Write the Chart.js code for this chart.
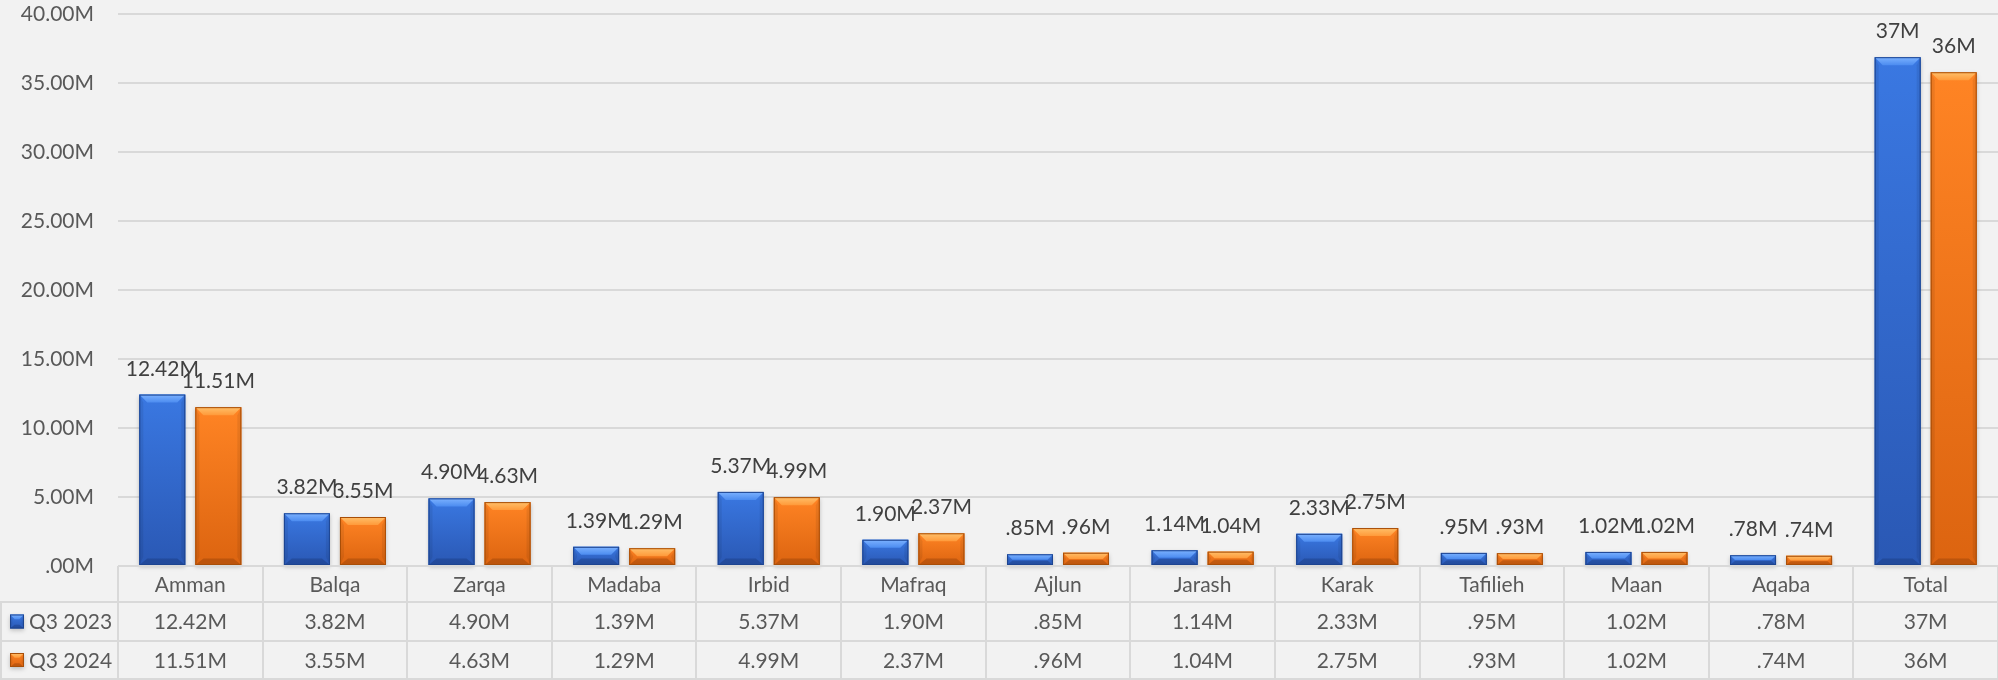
<!DOCTYPE html>
<html>
<head>
<meta charset="utf-8">
<script src="https://cdn.jsdelivr.net/npm/chart.js@4/dist/chart.umd.min.js"></script>
<style>
html,body{margin:0;padding:0;background:#f2f2f2;}
canvas{display:block;}
</style>
</head>
<body>
<canvas id="c" width="1998" height="680"></canvas>
<script>
// ---- data ----
const categories = ["Amman","Balqa","Zarqa","Madaba","Irbid","Mafraq","Ajlun","Jarash","Karak","Tafilieh","Maan","Aqaba","Total"];
const seriesNames = ["Q3 2023","Q3 2024"];
const q3_2023 = [12.42,3.82,4.90,1.39,5.37,1.90,0.85,1.14,2.33,0.95,1.02,0.78,36.87];
const q3_2024 = [11.51,3.55,4.63,1.29,4.99,2.37,0.96,1.04,2.75,0.93,1.02,0.74,35.78];
const labels2023 = ["12.42M","3.82M","4.90M","1.39M","5.37M","1.90M",".85M","1.14M","2.33M",".95M","1.02M",".78M","37M"];
const labels2024 = ["11.51M","3.55M","4.63M","1.29M","4.99M","2.37M",".96M","1.04M","2.75M",".93M","1.02M",".74M","36M"];
const yTicks = [0,5,10,15,20,25,30,35,40];

const FONT = "Lato, 'Open Sans', sans-serif";
const styles = [
  {main:['#3a78e2','#2a58b4'], top:['#7cb2ff','#4c8cf0'], edge:'#1d4490', bottom:'rgba(10,30,80,0.25)'},
  {main:['#ff8424','#dc6410'], top:['#ffc06a','#ff9a3a'], edge:'#a84e08', bottom:'rgba(90,35,0,0.25)'}
];

function drawBevel(ctx, L, T, R, B, st){
  const w = R-L, h = B-T;
  if (h <= 0) return;
  const b = Math.min(8, h/2, w/3);
  ctx.save();
  ctx.shadowColor = 'rgba(0,0,0,0.22)';
  ctx.shadowBlur = 4; ctx.shadowOffsetY = 2;
  let g = ctx.createLinearGradient(0,T,0,B);
  g.addColorStop(0, st.main[0]); g.addColorStop(1, st.main[1]);
  ctx.fillStyle = g;
  ctx.fillRect(L,T,w,h);
  ctx.restore();
  ctx.fillStyle = 'rgba(0,0,0,0.07)';
  ctx.beginPath(); ctx.moveTo(L,T); ctx.lineTo(L+b*0.5,T+b); ctx.lineTo(L+b*0.5,B-b); ctx.lineTo(L,B); ctx.closePath(); ctx.fill();
  ctx.beginPath(); ctx.moveTo(R,T); ctx.lineTo(R-b*0.5,T+b); ctx.lineTo(R-b*0.5,B-b); ctx.lineTo(R,B); ctx.closePath(); ctx.fill();
  ctx.fillStyle = st.bottom;
  ctx.beginPath(); ctx.moveTo(L,B); ctx.lineTo(R,B); ctx.lineTo(R-b,B-b*0.8); ctx.lineTo(L+b,B-b*0.8); ctx.closePath(); ctx.fill();
  g = ctx.createLinearGradient(0,T,0,T+b);
  g.addColorStop(0, st.top[0]); g.addColorStop(1, st.top[1]);
  ctx.fillStyle = g;
  ctx.beginPath(); ctx.moveTo(L,T); ctx.lineTo(R,T); ctx.lineTo(R-b,T+b); ctx.lineTo(L+b,T+b); ctx.closePath(); ctx.fill();
  ctx.strokeStyle = st.edge; ctx.lineWidth = 1;
  ctx.strokeRect(L+0.5,T+0.5,w-1,h-1);
}

const bgPlugin = {
  id:'bg',
  beforeDraw(chart){
    const ctx = chart.ctx;
    ctx.save(); ctx.fillStyle='#f2f2f2'; ctx.fillRect(0,0,chart.width,chart.height); ctx.restore();
  }
};

const barPlugin = {
  id:'bevelBars',
  afterDatasetsDraw(chart){
    const ctx = chart.ctx;
    const valueLabels = [labels2023, labels2024];
    chart.data.datasets.forEach((ds,di)=>{
      const meta = chart.getDatasetMeta(di);
      meta.data.forEach((el,i)=>{
        const p = el.getProps(['x','y','base','width'], true);
        drawBevel(ctx, p.x - p.width/2, p.y, p.x + p.width/2, p.base, styles[di]);
      });
    });
    ctx.save();
    ctx.font = "21px " + FONT;
    ctx.fillStyle = '#404040';
    ctx.textAlign = 'center'; ctx.textBaseline = 'alphabetic';
    chart.data.datasets.forEach((ds,di)=>{
      const meta = chart.getDatasetMeta(di);
      meta.data.forEach((el,i)=>{
        const p = el.getProps(['x','y'], true);
        ctx.fillText(valueLabels[di][i], p.x, p.y - 19);
      });
    });
    ctx.restore();
  }
};

const tablePlugin = {
  id:'dataTable',
  afterDraw(chart){
    const ctx = chart.ctx, x = chart.scales.x, area = chart.chartArea;
    const n = categories.length;
    const cw = area.width / n;
    const top = area.bottom, r1 = top + 36, r2 = r1 + 39, bot = chart.height - 1;
    ctx.save();
    ctx.strokeStyle = '#d9d9d9'; ctx.lineWidth = 2;
    ctx.beginPath();
    ctx.moveTo(area.left, top); ctx.lineTo(area.right, top);
    [r1, r2, bot].forEach(yy=>{ ctx.moveTo(0, yy); ctx.lineTo(area.right, yy); });
    for (let i=0;i<=n;i++){
      const xx = Math.round(area.left + i*cw);
      ctx.moveTo(xx, top); ctx.lineTo(xx, bot);
    }
    ctx.moveTo(1, r1); ctx.lineTo(1, bot);
    ctx.stroke();
    ctx.font = "21px " + FONT;
    ctx.fillStyle = '#595959';
    ctx.textAlign='center'; ctx.textBaseline='middle';
    categories.forEach((c,i)=>{
      const cx = x.getPixelForValue(i);
      ctx.fillText(c, cx, (top+r1)/2 + 1);
      ctx.fillText(labels2023[i], cx, (r1+r2)/2 + 1);
      ctx.fillText(labels2024[i], cx, (r2+bot)/2 + 1);
    });
    ctx.textAlign='left';
    const rowsY = [(r1+r2)/2, (r2+bot)/2];
    seriesNames.forEach((s,di)=>{
      const cy = rowsY[di];
      drawBevel(ctx, 10, cy-7, 24, cy+7, styles[di]);
      ctx.fillStyle = '#595959';
      ctx.fillText(s, 29, cy + 1);
    });
    ctx.restore();
  }
};

new Chart(document.getElementById('c'), {
  type:'bar',
  data:{
    labels: categories,
    datasets:[
      {label: seriesNames[0], data: q3_2023, backgroundColor: styles[0].main[0], categoryPercentage:0.775, barPercentage:0.82},
      {label: seriesNames[1], data: q3_2024, backgroundColor: styles[1].main[0], categoryPercentage:0.775, barPercentage:0.82}
    ]
  },
  options:{
    responsive:false,
    animation:false,
    layout:{padding:{top:14,bottom:114,left:0,right:0}},
    plugins:{legend:{display:false}, tooltip:{enabled:false}},
    scales:{
      x:{display:false},
      y:{
        min:0, max:40,
        afterFit(scale){ scale.width = 118; scale.paddingTop = 0; scale.paddingBottom = 0; },
        afterBuildTicks(scale){ scale.ticks = yTicks.map(v=>({value:v})); },
        grid:{color:'#d9d9d9', lineWidth:2, drawTicks:false},
        border:{display:false},
        ticks:{
          padding:24,
          color:'#595959',
          font:{family:FONT, size:21},
          callback:(v)=>{ let s = Number(v).toFixed(2); if (s.startsWith('0')) s = s.slice(1); return s+'M'; }
        }
      }
    }
  },
  plugins:[bgPlugin, barPlugin, tablePlugin]
});
</script>
</body>
</html>
